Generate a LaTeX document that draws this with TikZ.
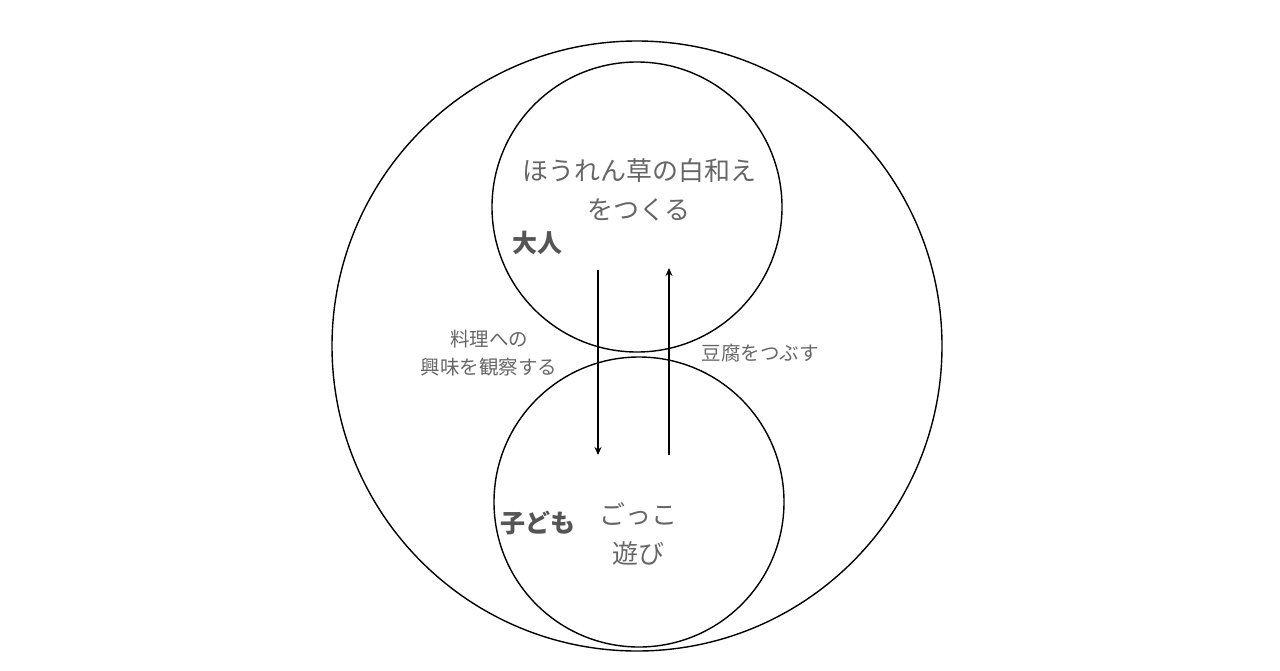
\documentclass[tikz,border=0pt]{standalone}
\usepackage{fontspec}
\newfontfamily\jp{Noto Sans CJK JP}
\usetikzlibrary{arrows.meta}
\definecolor{txtgray}{HTML}{666666}
\definecolor{boldgray}{HTML}{555555}
\tikzset{
  ring/.style={draw=black, line width=1.4pt, circle, inner sep=0pt},
  lbl/.style={font=\jp\fontsize{26}{39}\selectfont, text=txtgray, align=center, inner sep=0pt},
  blbl/.style={font=\jp\bfseries\fontsize{25}{30}\selectfont, text=boldgray, inner sep=0pt},
  slbl/.style={font=\jp\fontsize{19.5}{28}\selectfont, text=txtgray, align=center, inner sep=0pt},
  flow/.style={line width=1.2pt, -{Stealth[length=8pt,width=7pt]}}
}
\begin{document}
\begin{tikzpicture}[x=1pt,y=-1pt]
\useasboundingbox (0,0) rectangle (1280,670);
\node[ring, minimum size=610pt] (outer) at (637,346) {};
\node[ring, minimum size=290pt] (adult) at (637,207) {};
\node[ring, minimum size=290pt] (child) at (639,502) {};
\node[lbl] (task) at (639,190) {ほうれん草の白和え\\をつくる};
\node[blbl] (otona) at (537,243) {大人};
\node[blbl] (kodomo) at (538,523) {子ども};
\node[lbl] (play) at (638,534) {ごっこ\\遊び};
\coordinate (d1) at (598,270);
\coordinate (d2) at (598,455);
\coordinate (u1) at (669,455);
\coordinate (u2) at (669,268);
\draw[flow] (d1) -- (d2);
\draw[flow] (u1) -- (u2);
\node[slbl] (observe) at (489,353) {料理への\\興味を観察する};
\node[slbl] (tofu) at (760,353) {豆腐をつぶす};
\end{tikzpicture}
\end{document}
